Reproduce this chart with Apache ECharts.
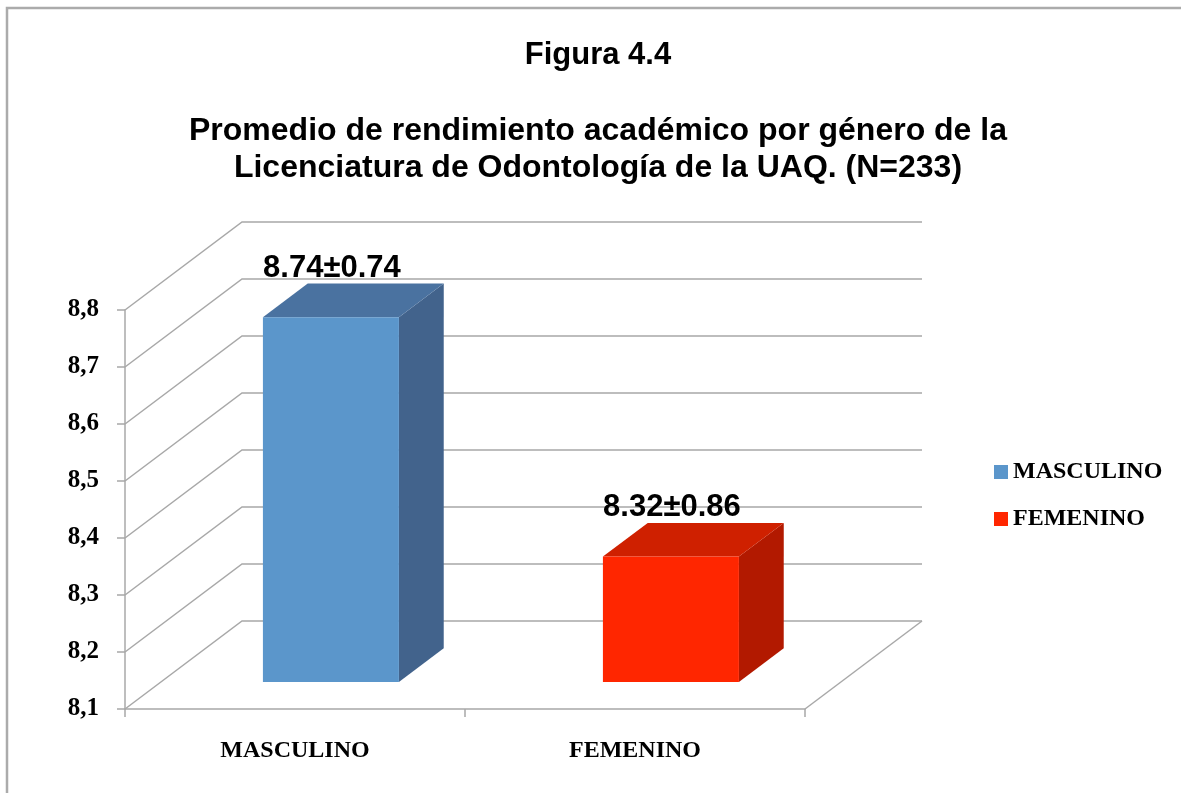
<!doctype html>
<html>
<head>
    <meta charset="utf-8">
    <title>Figura 4.4</title>
    <script src="https://cdn.jsdelivr.net/npm/echarts@6/dist/echarts.min.js"></script>
    <style>
        html, body { margin: 0; padding: 0; background: #fff; }
    </style>
</head>
<body>
    <div id="container" style="width:1181px;height:793px;"></div>

    <script type="text/javascript">
        // categorias y valores (media ± desviacion)
        var categories = ['MASCULINO', 'FEMENINO'];
        var means = [8.74, 8.32];
        var sds = [0.74, 0.86];
        var yTicks = [8.1, 8.2, 8.3, 8.4, 8.5, 8.6, 8.7, 8.8];
        var yMin = 8.1, yMax = 8.8;
        var titleLines = [
            'Figura 4.4',
            'Promedio de rendimiento académico por género de la',
            'Licenciatura de Odontología de la UAQ. (N=233)'
        ];

        // colores de las caras (frente, tapa, lado)
        var faceColors = [
            ['#5b96cb', '#4a72a0', '#42638c'],
            ['#ff2600', '#cf2000', '#b21900']
        ];

        // profundidad de la perspectiva 3D
        var DX = 117, DY = -88;
        var F0 = 0.307, F1 = 0.69;
        var gridColor = '#a8a8a8';

        // paredes: diagonales laterales, lineas del fondo y piso
        function renderWall(params, api) {
            var cs = params.coordSys;
            var v = api.value(1);
            var y = api.coord([0, v])[1];
            var children = [{
                type: 'polyline',
                shape: { points: [[cs.x, y], [cs.x + DX, y + DY], [cs.x + cs.width + DX, y + DY]] },
                style: { stroke: gridColor, lineWidth: 1.5, fill: null }
            }];
            if (v === yMin) {
                children.push({
                    type: 'line',
                    shape: { x1: cs.x + cs.width, y1: y, x2: cs.x + cs.width + DX, y2: y + DY },
                    style: { stroke: gridColor, lineWidth: 1.5 }
                });
            }
            return { type: 'group', children: children };
        }

        function renderBar(params, api) {
            var idx = api.value(0), val = api.value(1), sd = api.value(2);
            var col = faceColors[idx];
            var band = api.size([1, 0])[0];
            var c0 = api.coord([idx, yMin]);
            var c1 = api.coord([idx, val]);
            var w = band * 0.4;
            var x0 = c0[0] - w / 2 + DX * F0, x1 = x0 + w;
            var yb = c0[1] + DY * F0, yt = c1[1] + DY * F0;
            var ddx = DX * (F1 - F0), ddy = DY * (F1 - F0);
            return {
                type: 'group',
                children: [{
                    type: 'polygon',
                    shape: { points: [[x1, yt], [x1 + ddx, yt + ddy], [x1 + ddx, yb + ddy], [x1, yb]] },
                    style: { fill: col[2] }
                }, {
                    type: 'polygon',
                    shape: { points: [[x0, yt], [x1, yt], [x1 + ddx, yt + ddy], [x0 + ddx, yt + ddy]] },
                    style: { fill: col[1] }
                }, {
                    type: 'rect',
                    shape: { x: x0, y: yt, width: w, height: yb - yt },
                    style: { fill: col[0] }
                }, {
                    type: 'text',
                    x: (x0 + x1) / 2 + 1,
                    y: yt + ddy - 15,
                    style: {
                        text: val.toFixed(2) + '±' + sd.toFixed(2),
                        fill: '#000',
                        font: 'bold 31px "Liberation Sans", Arial, sans-serif',
                        align: 'center',
                        verticalAlign: 'middle'
                    }
                }]
            };
        }

        var sans = '"Liberation Sans", Arial, sans-serif';
        var serif = '"Liberation Serif", "DejaVu Serif", serif';

        var series = [{
            type: 'custom',
            name: 'pared',
            renderItem: renderWall,
            data: yTicks.map(function (t) { return [0, t]; }),
            clip: false,
            silent: true,
            z: 1
        }];
        categories.forEach(function (c, i) {
            series.push({
                type: 'custom',
                name: c,
                renderItem: renderBar,
                data: [[i, means[i], sds[i]]],
                itemStyle: { color: faceColors[i][0] },
                clip: false,
                z: 3
            });
        });

        var titleTops = [35, 110, 147];
        var titleSizes = [31, 32, 32];
        var titles = titleLines.map(function (t, i) {
            return {
                text: t,
                left: 593,
                textAlign: 'center',
                top: titleTops[i],
                textStyle: { fontFamily: sans, fontWeight: 'bold', fontSize: titleSizes[i], color: '#000' }
            };
        });

        var option = {
            backgroundColor: '#fff',
            animation: false,
            title: titles,
            graphic: [{
                type: 'polyline',
                shape: { points: [[7, 793], [7, 8], [1181, 8]] },
                style: { stroke: '#ababab', lineWidth: 2.5, fill: null },
                silent: true
            }],
            legend: {
                data: categories,
                orient: 'vertical',
                left: 989,
                top: 455,
                icon: 'rect',
                itemWidth: 14,
                itemHeight: 14,
                itemGap: 23,
                textStyle: { fontFamily: serif, fontWeight: 'bold', fontSize: 24, color: '#000', lineHeight: 24 }
            },
            grid: { left: 125, right: 376, top: 310, bottom: 84, containLabel: false },
            xAxis: {
                type: 'category',
                data: categories,
                boundaryGap: true,
                axisLine: { lineStyle: { color: gridColor, width: 1.5 } },
                axisTick: { show: true, length: 8, lineStyle: { color: gridColor, width: 1.5 } },
                axisLabel: { margin: 30, color: '#000', fontFamily: serif, fontWeight: 'bold', fontSize: 24 }
            },
            yAxis: {
                type: 'value',
                min: yMin,
                max: yMax,
                interval: 0.1,
                axisLine: { show: true, lineStyle: { color: gridColor, width: 1.5 } },
                axisTick: { show: true, length: 8, lineStyle: { color: gridColor, width: 1.5 } },
                splitLine: { show: false },
                axisLabel: {
                    margin: 26,
                    color: '#000',
                    fontFamily: serif,
                    fontWeight: 'bold',
                    fontSize: 25,
                    formatter: function (v) { return v.toFixed(1).replace('.', ','); }
                }
            },
            series: series
        };

        var myChart = echarts.init(document.getElementById('container'));
        myChart.setOption(option);
    </script>
</body>
</html>
